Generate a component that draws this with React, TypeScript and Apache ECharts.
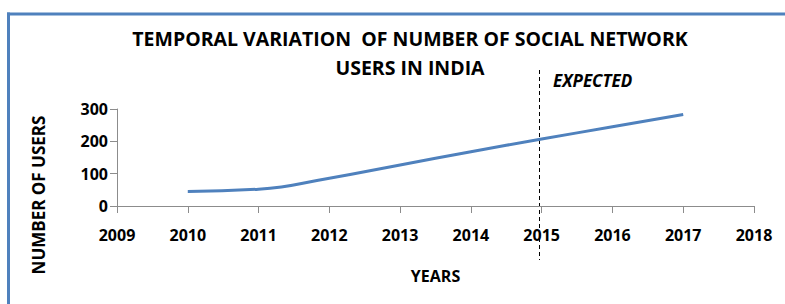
import React, { useEffect, useRef } from "react";
import * as echarts from "echarts";

const years = [2010, 2011, 2012, 2013, 2014, 2015, 2016, 2017];
const users = [45, 52, 86, 127, 168, 207, 245, 283];
const yTicks = [0, 100, 200, 300];
const titleLines = ["TEMPORAL VARIATION  OF NUMBER OF SOCIAL NETWORK", "USERS IN INDIA"];
const expectedLabel = "EXPECTED";
const FONT = "'Open Sans', 'Noto Sans', sans-serif";

export default function App() {
  const ref = useRef<HTMLDivElement>(null);
  useEffect(() => {
    if (!ref.current) return;
    const chart = echarts.init(ref.current, null, { renderer: "svg" });
    chart.setOption({
      animation: false,
      backgroundColor: "#ffffff",
      grid: { left: 117, right: 31, top: 109, bottom: 98 },
      title: {
        text: titleLines.join("\n"),
        left: 405,
        textAlign: "center",
        top: 19,
        textStyle: { fontFamily: FONT, fontWeight: "bold", fontSize: 19.5, lineHeight: 29, color: "#000" },
      },
      xAxis: {
        type: "value",
        min: 2009,
        max: 2018,
        interval: 1,
        name: "YEARS",
        nameLocation: "middle",
        nameGap: 62,
        nameTextStyle: { fontFamily: FONT, fontWeight: "bold", fontSize: 16, color: "#000" },
        axisLine: { lineStyle: { color: "#8c8c8c", width: 1 } },
        axisTick: { show: true, length: 7, lineStyle: { color: "#8c8c8c" } },
        axisLabel: { fontFamily: FONT, fontWeight: "bold", fontSize: 16, color: "#000", margin: 21, formatter: (v: number) => String(v) },
        splitLine: { show: false },
      },
      yAxis: {
        type: "value",
        min: 0,
        max: 300,
        interval: 100,
        name: "NUMBER OF USERS",
        nameLocation: "middle",
        nameGap: 70,
        nameRotate: 90,
        nameTextStyle: { fontFamily: FONT, fontWeight: "bold", fontSize: 17, color: "#000", align: "center", padding: [0, 0, 0, -75] },
        axisLine: { show: true, lineStyle: { color: "#8c8c8c", width: 1 } },
        axisTick: { show: true, length: 7, lineStyle: { color: "#8c8c8c" } },
        axisLabel: {
          fontFamily: FONT, fontWeight: "bold", fontSize: 16, color: "#000", margin: 9,
          formatter: (v: number) => (yTicks.includes(v) ? String(v) : ""),
        },
        splitLine: { show: false },
      },
      series: [
        {
          type: "line",
          data: years.map((y, i) => [y, users[i]]),
          smooth: 0.5,
          showSymbol: false,
          lineStyle: { color: "#4F81BD", width: 3 },
        },
      ],
      graphic: [
        {
          type: "line",
          shape: { x1: 8.5, y1: 310, x2: 8.5, y2: 12.5 },
          style: { stroke: "#4F81BD", lineWidth: 3 },
          silent: true,
        },
        {
          type: "line",
          shape: { x1: 7, y1: 14, x2: 786, y2: 14 },
          style: { stroke: "#4F81BD", lineWidth: 3 },
          silent: true,
        },
        {
          type: "line",
          shape: { x1: 539.5, y1: 70, x2: 539.5, y2: 260 },
          style: { stroke: "#000", lineWidth: 1, lineDash: [4, 3] },
          silent: true,
        },
        {
          type: "text",
          x: 553,
          y: 80,
          style: {
            text: expectedLabel,
            fontFamily: FONT,
            fontWeight: "bold",
            fontStyle: "italic",
            fontSize: 17,
            fill: "#000",
            verticalAlign: "middle",
          },
        },
      ],
    });
    return () => chart.dispose();
  }, []);
  return <div ref={ref} style={{ position: "absolute", left: 0, top: 0, width: 785, height: 304, overflow: "hidden" }} />;
}
